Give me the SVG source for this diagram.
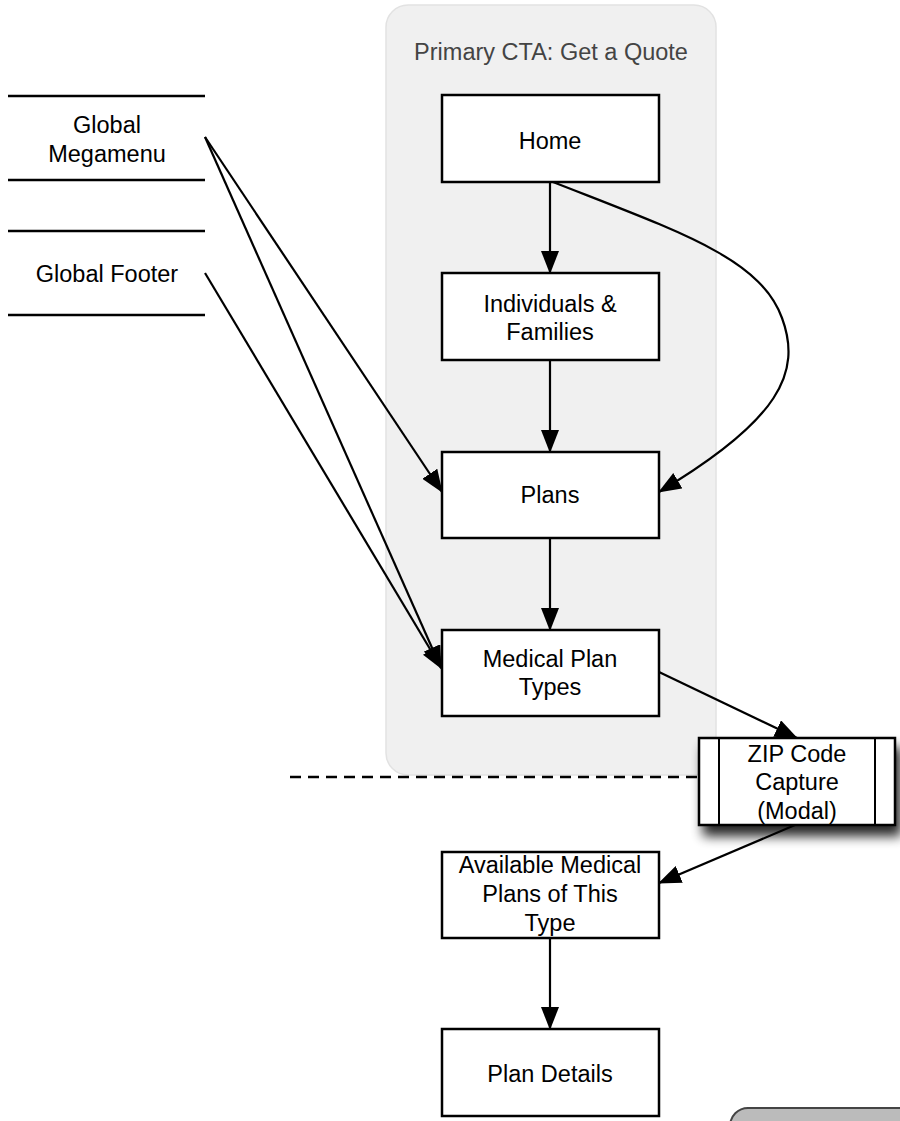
<svg xmlns="http://www.w3.org/2000/svg" width="900" height="1121" viewBox="0 0 900 1121">
<defs>
<marker id="ah" markerWidth="23" markerHeight="18" refX="22" refY="9" orient="auto" markerUnits="userSpaceOnUse">
<path d="M0,0 L23,9 L0,18 Z" fill="#000"/>
</marker>
<filter id="sh" x="-20%" y="-20%" width="150%" height="170%">
<feGaussianBlur in="SourceAlpha" stdDeviation="6"/>
<feOffset dx="5" dy="10" result="b"/>
<feComponentTransfer><feFuncA type="linear" slope="0.85"/></feComponentTransfer>
<feMerge><feMergeNode/><feMergeNode in="SourceGraphic"/></feMerge>
</filter>
<style>
.box{fill:#fff;stroke:#000;stroke-width:2.5}
.t{font-family:"Liberation Sans",Arial,sans-serif;font-size:23.5px;fill:#000;text-anchor:middle}
.c{fill:none;stroke:#000;stroke-width:2.2;marker-end:url(#ah)}
.sep{stroke:#000;stroke-width:2.5}
</style>
</defs>
<rect width="900" height="1121" fill="#fff"/>
<g id="container">
<rect x="386" y="5" width="330" height="770" rx="22" fill="#f0f0f0" stroke="#e2e2e2" stroke-width="1.5"/>
<text x="551" y="60" class="t" style="fill:#444">Primary CTA: Get a Quote</text>
</g>
<g id="dashed">
<line x1="290" y1="777" x2="699" y2="777" stroke="#000" stroke-width="2.5" stroke-dasharray="11,7"/>
</g>
<g id="megamenu">
<line class="sep" x1="8" y1="96" x2="205" y2="96"/>
<line class="sep" x1="8" y1="180" x2="205" y2="180"/>
<text class="t" x="107" y="133">Global</text>
<text class="t" x="107" y="162">Megamenu</text>
</g>
<g id="footer">
<line class="sep" x1="8" y1="231" x2="205" y2="231"/>
<line class="sep" x1="8" y1="315" x2="205" y2="315"/>
<text class="t" x="107" y="282">Global Footer</text>
</g>
<g id="connectors">
<line class="c" x1="205" y1="137" x2="442" y2="492"/>
<line class="c" x1="205" y1="137" x2="441" y2="668"/>
<line class="c" x1="205" y1="273" x2="442" y2="669"/>
<line class="c" x1="550" y1="182" x2="550" y2="273"/>
<line class="c" x1="550" y1="360" x2="550" y2="452"/>
<line class="c" x1="550" y1="538" x2="550" y2="630"/>
<path class="c" d="M553,182 C680,232 760,258 782,318 C802,372 780,420 659,492"/>
<line class="c" x1="659" y1="672" x2="797" y2="738"/>
<line class="c" x1="795" y1="825" x2="659" y2="883"/>
<line class="c" x1="550" y1="938" x2="550" y2="1029"/>
</g>
<g id="home">
<rect class="box" x="442" y="95" width="217" height="87"/>
<text class="t" x="550" y="149">Home</text>
</g>
<g id="individuals">
<rect class="box" x="442" y="273" width="217" height="87"/>
<text class="t" x="550" y="312">Individuals &amp;</text>
<text class="t" x="550" y="340">Families</text>
</g>
<g id="plans">
<rect class="box" x="442" y="452" width="217" height="86"/>
<text class="t" x="550" y="503">Plans</text>
</g>
<g id="medical-plan-types">
<rect class="box" x="442" y="630" width="217" height="86"/>
<text class="t" x="550" y="667">Medical Plan</text>
<text class="t" x="550" y="695">Types</text>
</g>
<g id="zip-code">
<rect class="box" x="699" y="738" width="196" height="87" filter="url(#sh)"/>
<line x1="719" y1="738" x2="719" y2="825" stroke="#000" stroke-width="2"/>
<line x1="875" y1="738" x2="875" y2="825" stroke="#000" stroke-width="2"/>
<text class="t" x="797" y="762">ZIP Code</text>
<text class="t" x="797" y="790">Capture</text>
<text class="t" x="797" y="819">(Modal)</text>
</g>
<g id="available">
<rect class="box" x="442" y="852" width="217" height="86"/>
<text class="t" x="550" y="873">Available Medical</text>
<text class="t" x="550" y="902">Plans of This</text>
<text class="t" x="550" y="931">Type</text>
</g>
<g id="plan-details">
<rect class="box" x="442" y="1029" width="217" height="87"/>
<text class="t" x="550" y="1082">Plan Details</text>
</g>
<g id="corner-shape">
<rect x="730" y="1108" width="200" height="60" rx="18" fill="#bbb" stroke="#444" stroke-width="2"/>
</g>
</svg>
